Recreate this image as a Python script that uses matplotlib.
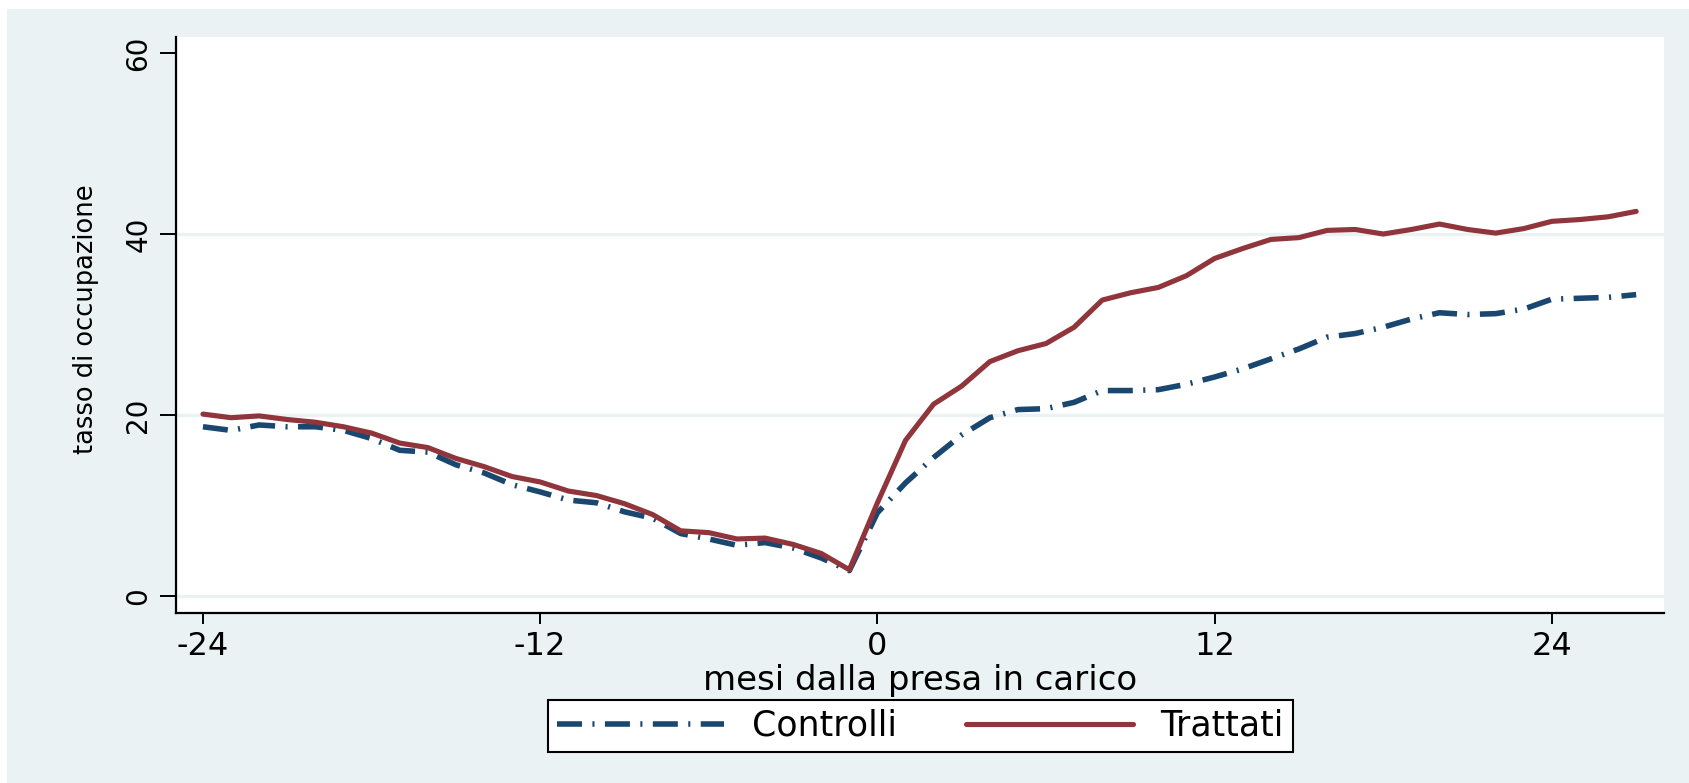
import numpy as np
import matplotlib.pyplot as plt
from matplotlib.patches import Rectangle

plt.rcParams['font.family'] = ['DejaVu Sans']
plt.rcParams['lines.scale_dashes'] = False

months = np.arange(-24, 28)
controlli = [18.7, 18.3, 18.9, 18.7, 18.7, 18.3, 17.4, 16.1, 15.9, 14.5, 13.6, 12.3,
             11.5, 10.6, 10.3, 9.3, 8.6, 6.9, 6.3, 5.6, 5.9, 5.3, 4.2, 2.8,
             9.2, 12.5, 15.3, 17.8, 19.7, 20.6, 20.7, 21.4, 22.7, 22.7, 22.8, 23.4,
             24.2, 25.1, 26.2, 27.3, 28.6, 29.0, 29.7, 30.6, 31.3, 31.1, 31.2, 31.7,
             32.8, 32.9, 33.0, 33.3]
trattati = [20.1, 19.7, 19.9, 19.5, 19.2, 18.7, 18.0, 16.9, 16.4, 15.2, 14.3, 13.2,
            12.6, 11.6, 11.1, 10.2, 9.0, 7.2, 7.0, 6.3, 6.4, 5.7, 4.7, 2.9,
            10.3, 17.2, 21.2, 23.2, 25.9, 27.1, 27.9, 29.7, 32.7, 33.5, 34.1, 35.4,
            37.3, 38.4, 39.4, 39.6, 40.4, 40.5, 40.0, 40.5, 41.1, 40.5, 40.1, 40.6,
            41.4, 41.6, 41.9, 42.5]
xticks = [-24, -12, 0, 12, 24]
yticks = [0, 20, 40, 60]

bg = '#EAF2F3'
navy = '#1A476F'
maroon = '#90353B'

fig = plt.figure(figsize=(16.89, 7.83), dpi=100, facecolor='white')
fig.patches.append(Rectangle((7 / 1689, 0), 1 - 7 / 1689, 1 - 9 / 783,
                             transform=fig.transFigure, facecolor=bg,
                             edgecolor='none', zorder=-10))
ax = fig.add_axes([176 / 1689, 1 - 613 / 783, 1488 / 1689, 576 / 783])
ax.set_facecolor('white')

for y in [0, 20, 40]:
    ax.axhline(y, color=bg, lw=2.4, zorder=1)

ax.plot(months, controlli, color=navy, lw=4.0, ls=(0, (18, 7.5, 1.5, 7.5)),
        dash_capstyle='butt', label='Controlli', zorder=3)
ax.plot(months, trattati, color=maroon, lw=3.7, solid_capstyle='round',
        label='Trattati', zorder=3)

ax.set_xlim(-24.96, 27.99)
ax.set_ylim(-1.88, 61.77)
ax.set_xticks(xticks)
ax.set_xticklabels([str(t) for t in xticks])
ax.set_yticks(yticks)
ax.set_yticklabels([str(t) for t in yticks], rotation=90, va='center')

for s in ['top', 'right']:
    ax.spines[s].set_visible(False)
for s in ['left', 'bottom']:
    ax.spines[s].set_linewidth(1.6)
ax.tick_params(axis='x', length=8, width=1.4, pad=5, labelsize=23)
ax.tick_params(axis='y', length=11.5, width=1.4, pad=5.5, labelsize=20)

ax.set_xlabel('mesi dalla presa in carico', fontsize=24.5)
ax.xaxis.set_label_coords(0.5, -0.088)
ax.set_ylabel('tasso di occupazione', fontsize=18.5)
ax.yaxis.set_label_coords(-0.052, 0.51)

leg = fig.legend(loc='center', bbox_to_anchor=(920.5 / 1689, 1 - 726 / 783),
                 ncol=2, fontsize=25, handlelength=4.8, handletextpad=0.8,
                 columnspacing=2.0, borderpad=0.25, fancybox=False,
                 framealpha=1, edgecolor='black', facecolor='white')
leg.get_frame().set_linewidth(1.5)

fig.savefig('out.png', dpi=100, facecolor='white')
